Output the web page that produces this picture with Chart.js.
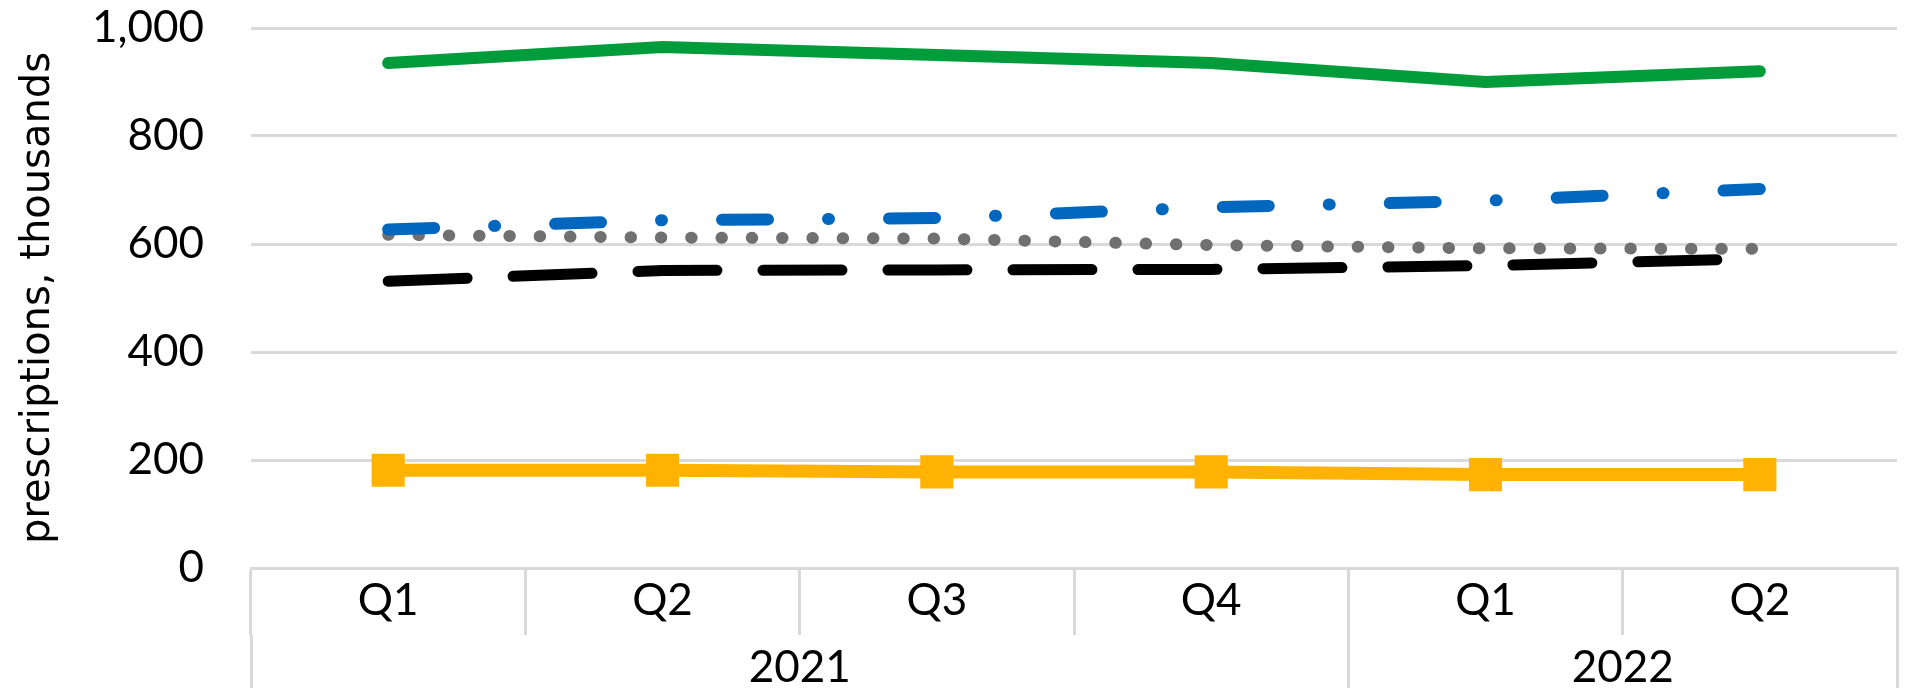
<!DOCTYPE html>
<html>
<head>
<meta charset="utf-8">
<script src="https://cdn.jsdelivr.net/npm/chart.js@4/dist/chart.umd.min.js"></script>
<style>
  body { margin: 0; background: #fff; }
  canvas { display: block; }
</style>
</head>
<body>
<canvas id="chart" width="1921" height="688"></canvas>
<script>
// quarters and the year each block of quarters belongs to
const quarters = ['Q1', 'Q2', 'Q3', 'Q4', 'Q1', 'Q2'];
const years = ['2021', '2022'];
const yearSpans = [4, 2];

// prescriptions, thousands
const greenSeries = [935, 965, 950, 935, 900, 920];
const blueSeries = [627, 644, 648, 668, 680, 702];
const greySeries = [617, 612, 610, 598, 592, 591];
const blackSeries = [531, 551, 552, 553, 560, 573];
const yellowSeries = [181, 181, 178, 178, 173, 173];

const yTicks = [0, 200, 400, 600, 800, 1000];

const gridGrey = '#d9d9d9';
const tickFont = { family: 'Lato', size: 44 };

// year band: boundaries and label positions in category units
const yearEdges = [-0.5];
const yearMids = [];
let pos = -0.5;
yearSpans.forEach(span => {
    yearMids.push(pos + span / 2);
    pos += span;
    yearEdges.push(pos);
});

// no automatic label overflow padding, the layout is set by hand
const noPad = axis => {
    axis.paddingTop = 0;
    axis.paddingBottom = 0;
    axis.paddingLeft = 0;
    axis.paddingRight = 0;
};

const ctx = document.getElementById('chart').getContext('2d');
new Chart(ctx, {
    type: 'line',
    data: {
        labels: quarters,
        datasets: [
            {
                data: greenSeries,
                borderColor: '#009b3a',
                borderWidth: 12,
                borderCapStyle: 'round',
                borderJoinStyle: 'round',
                pointRadius: 0
            },
            {
                data: blueSeries,
                borderColor: '#0066be',
                borderWidth: 12,
                borderCapStyle: 'round',
                borderDash: [46, 60, 1, 60],
                pointRadius: 0
            },
            {
                data: greySeries,
                borderColor: '#707070',
                borderWidth: 12,
                borderCapStyle: 'round',
                borderDash: [0.5, 29.8],
                pointRadius: 0
            },
            {
                data: blackSeries,
                borderColor: '#000000',
                borderWidth: 11,
                borderCapStyle: 'round',
                borderDash: [79, 46],
                pointRadius: 0
            },
            {
                data: yellowSeries,
                borderColor: '#ffb300',
                backgroundColor: '#ffb300',
                borderWidth: 13,
                pointStyle: 'rect',
                pointRadius: 22,
                pointBorderWidth: 2,
                pointBorderColor: '#ffb300',
                pointBackgroundColor: '#ffb300'
            }
        ]
    },
    options: {
        responsive: false,
        devicePixelRatio: 1,
        animation: false,
        layout: { padding: { top: 28, right: 10, bottom: 0, left: 0 } },
        plugins: {
            legend: { display: false },
            tooltip: { enabled: false }
        },
        elements: { line: { tension: 0 } },
        scales: {
            y: {
                min: 0,
                max: 1000,
                afterBuildTicks: axis => { axis.ticks = yTicks.map(v => ({ value: v })); },
                afterFit: axis => { axis.width = 251; noPad(axis); },
                border: { display: false },
                grid: { color: gridGrey, lineWidth: 3, drawTicks: false },
                ticks: {
                    color: '#000',
                    font: tickFont,
                    padding: 47,
                    callback: v => v.toLocaleString('en-US')
                },
                title: {
                    display: true,
                    text: 'prescriptions, thousands',
                    color: '#000',
                    font: { family: 'DejaVu Sans', size: 40 },
                    padding: { top: 15, bottom: 0 }
                }
            },
            x: {
                offset: true,
                afterFit: axis => { axis.height = 67; noPad(axis); },
                border: { display: true, color: gridGrey, width: 3 },
                grid: {
                    offset: true,
                    drawOnChartArea: false,
                    color: gridGrey,
                    lineWidth: 3,
                    tickLength: 67
                },
                ticks: {
                    color: '#000',
                    font: tickFont,
                    padding: -61,
                    maxRotation: 0,
                    autoSkip: false
                }
            },
            year: {
                type: 'linear',
                position: 'bottom',
                min: -0.5,
                max: quarters.length - 0.5,
                afterBuildTicks: axis => {
                    axis.ticks = yearEdges.concat(yearMids).sort((a, b) => a - b).map(v => ({ value: v }));
                },
                afterFit: axis => { axis.height = 53; noPad(axis); },
                border: { display: false },
                grid: {
                    drawOnChartArea: false,
                    color: c => yearEdges.includes(c.tick.value) ? gridGrey : 'rgba(0,0,0,0)',
                    lineWidth: 3,
                    tickLength: 53
                },
                ticks: {
                    color: '#000',
                    font: tickFont,
                    padding: -47,
                    maxRotation: 0,
                    autoSkip: false,
                    callback: v => {
                        const i = yearMids.indexOf(v);
                        return i >= 0 ? years[i] : '';
                    }
                }
            }
        }
    }
});
</script>
</body>
</html>
